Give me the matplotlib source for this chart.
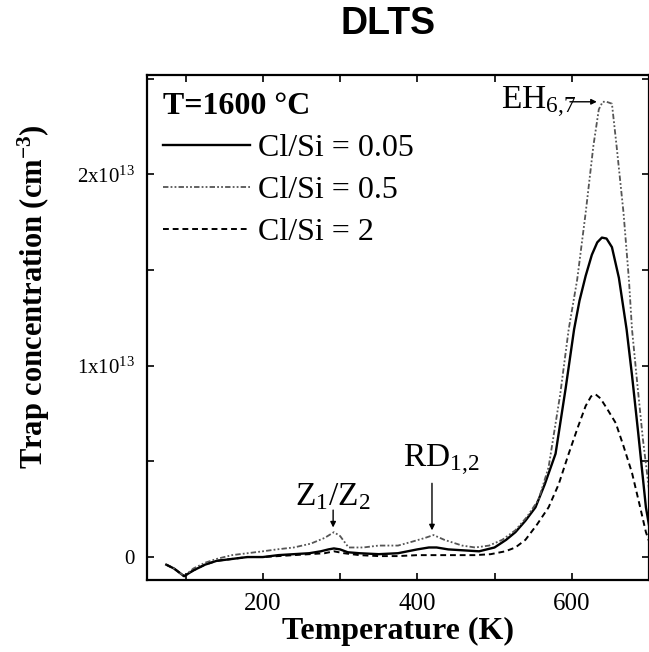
import numpy as np
import matplotlib
matplotlib.use("Agg")
import matplotlib.pyplot as plt
from matplotlib.ticker import MultipleLocator, FixedLocator, FixedFormatter

plt.rcParams["font.family"] = ["Liberation Serif", "DejaVu Serif"]
plt.rcParams["mathtext.fontset"] = "custom"
plt.rcParams["mathtext.rm"] = "Liberation Serif"
plt.rcParams["mathtext.it"] = "Liberation Serif:italic"
plt.rcParams["mathtext.bf"] = "Liberation Serif:bold"

SCALE = 1e13

# Cl/Si = 0.05 (solid)
t_005 = [75, 85, 98, 110, 125, 140, 160, 180, 200, 220, 240, 260, 275, 285, 292,
         300, 310, 325, 350, 375, 400, 415, 425, 440, 460, 480, 500, 515, 527, 540,
         553, 565, 579, 592, 603, 610, 618, 626, 633, 639, 645, 652, 661, 671, 678,
         686, 696, 702]
n_005 = [-0.04, -0.06, -0.10, -0.07, -0.04, -0.02, -0.01, 0.0, 0.0, 0.01, 0.015,
         0.02, 0.03, 0.04, 0.045, 0.04, 0.025, 0.02, 0.015, 0.02, 0.04, 0.05, 0.05,
         0.04, 0.035, 0.03, 0.05, 0.09, 0.13, 0.19, 0.26, 0.38, 0.54, 0.88, 1.19,
         1.34, 1.47, 1.58, 1.645, 1.67, 1.665, 1.62, 1.46, 1.19, 0.95, 0.65, 0.26, 0.12]

# Cl/Si = 0.5 (dash-dot)
t_05 = [75, 85, 98, 110, 125, 140, 160, 180, 200, 218, 240, 262, 280, 292, 300,
        311, 330, 350, 375, 393, 410, 421, 435, 458, 475, 493, 510, 527, 542, 557,
        570, 585, 596, 607, 618, 628, 635, 640, 645, 652, 658, 667, 674, 678, 685,
        692, 698, 704]
n_05 = [-0.04, -0.06, -0.10, -0.06, -0.03, -0.01, 0.01, 0.02, 0.03, 0.04, 0.05,
        0.07, 0.10, 0.13, 0.11, 0.05, 0.05, 0.06, 0.06, 0.08, 0.10, 0.115, 0.09,
        0.06, 0.05, 0.06, 0.09, 0.14, 0.21, 0.30, 0.47, 0.85, 1.19, 1.45, 1.80,
        2.15, 2.34, 2.38, 2.38, 2.37, 2.15, 1.80, 1.45, 1.19, 0.90, 0.62, 0.42, 0.22]

# Cl/Si = 2 (dashed)
t_2 = [75, 85, 98, 110, 125, 140, 160, 180, 200, 220, 240, 260, 280, 292, 305,
       325, 350, 375, 400, 425, 450, 475, 495, 514, 527, 540, 555, 570, 583, 596,
       608, 618, 625, 631, 637, 645, 657, 667, 678, 688, 696, 702]
n_2 = [-0.04, -0.06, -0.10, -0.07, -0.04, -0.02, -0.01, 0.0, 0.0, 0.005, 0.01,
       0.015, 0.02, 0.03, 0.02, 0.01, 0.005, 0.005, 0.01, 0.01, 0.01, 0.01, 0.015,
       0.03, 0.05, 0.09, 0.17, 0.26, 0.38, 0.54, 0.68, 0.79, 0.84, 0.85, 0.83,
       0.78, 0.70, 0.58, 0.44, 0.27, 0.13, 0.06]

labels = ["Cl/Si = 0.05", "Cl/Si = 0.5", "Cl/Si = 2"]
ytick_vals = [0, 1, 2]
ytick_text = ["0", "1x10$^{13}$", "2x10$^{13}$"]

fig = plt.figure(figsize=(6.49, 6.52), dpi=100)
ax = fig.add_axes([147 / 649, 1 - 580 / 652, 1 - 147 / 649, (580 - 75) / 652])

ax.plot(t_005, np.array(n_005) * SCALE, color="black", lw=1.7, label=labels[0])
ax.plot(t_05, np.array(n_05) * SCALE, color="#555555", lw=1.3,
        ls=(0, (3, 1.2, 1, 1.2, 1, 1.2)), label=labels[1])
ax.plot(t_2, np.array(n_2) * SCALE, color="black", lw=1.4,
        ls=(0, (3, 2)), label=labels[2])

ax.set_xlim(50, 700)
ax.set_ylim(-0.12 * SCALE, 2.52 * SCALE)

ax.xaxis.set_major_locator(MultipleLocator(200))
ax.xaxis.set_minor_locator(MultipleLocator(100))
ax.yaxis.set_major_locator(FixedLocator([v * SCALE for v in ytick_vals]))
ax.yaxis.set_major_formatter(FixedFormatter(ytick_text))
ax.yaxis.set_minor_locator(MultipleLocator(0.5 * SCALE))

ax.tick_params(which="both", direction="in", top=True, right=True, width=1.2)
ax.tick_params(which="major", length=5)
ax.tick_params(which="minor", length=5)
ax.tick_params(axis="x", labelsize=18, pad=9)
ax.tick_params(axis="y", labelsize=15, pad=9)
for s in ax.spines.values():
    s.set_linewidth(1.6)

ax.set_xlabel("Temperature (K)", fontsize=23, fontweight="bold", labelpad=2)
ax.set_ylabel(r"Trap concentration (cm$^{\mathbf{-3}}$)", fontsize=22,
              fontweight="bold")
ax.yaxis.set_label_coords(-0.19, 0.562)

leg = ax.legend(loc="upper left", bbox_to_anchor=(0.004, 0.995), frameon=False,
                title="T=1600 \u00b0C", fontsize=23, handlelength=2.7,
                handletextpad=0.25, labelspacing=0.4, borderaxespad=0.25,
                borderpad=0.2)
leg.get_title().set_fontweight("bold")
leg.get_title().set_fontsize(23)
leg._legend_box.align = "left"

arrow = dict(arrowstyle="-|>", color="black", lw=1.0, mutation_scale=8)
ax.annotate("", xy=(291, 0.14 * SCALE), xytext=(291, 0.26 * SCALE), arrowprops=arrow)
ax.text(290, 0.27 * SCALE, "Z$_1$/Z$_2$", fontsize=24, ha="center", va="baseline")
ax.annotate("", xy=(419, 0.125 * SCALE), xytext=(419, 0.40 * SCALE), arrowprops=arrow)
ax.text(382, 0.47 * SCALE, "RD$_{1{,}2}$", fontsize=24, ha="left", va="baseline")
ax.annotate("", xy=(636, 2.38 * SCALE), xytext=(594, 2.38 * SCALE), arrowprops=arrow)
ax.text(509, 2.34 * SCALE, "EH$_{6{,}7}$", fontsize=24, ha="left", va="baseline")

fig.text(388 / 649, 1 - 24 / 652, "DLTS", fontsize=27, fontweight="bold",
         family="Liberation Sans", ha="center", va="center")

fig.savefig("out.png", dpi=100)
